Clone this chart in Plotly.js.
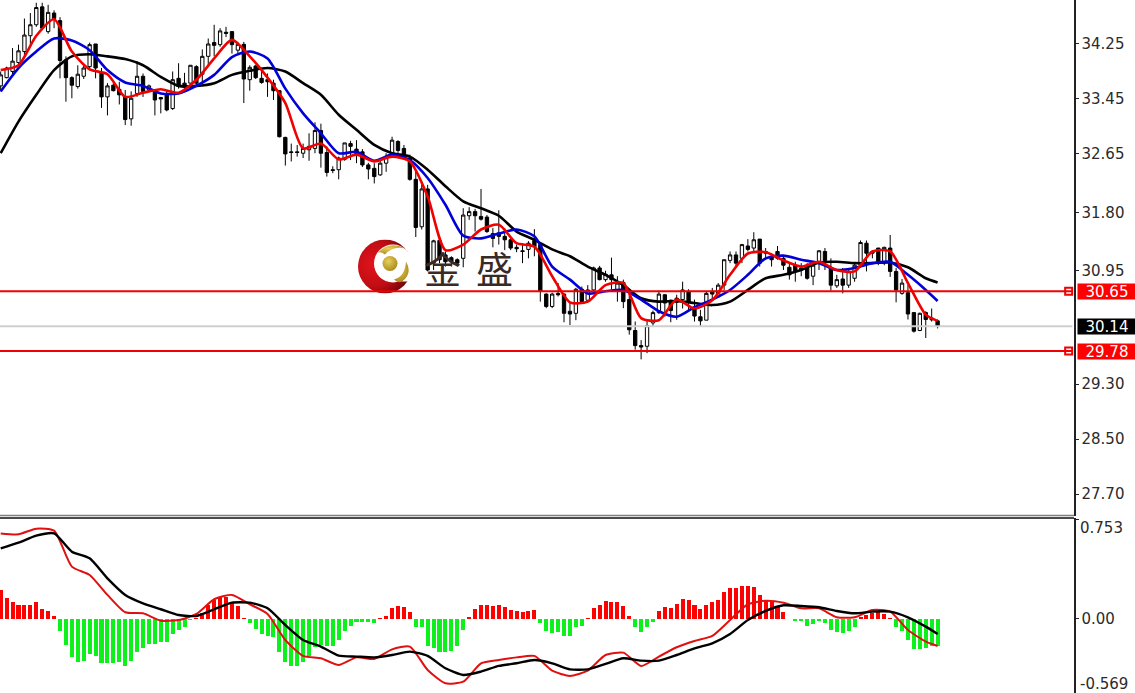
<!DOCTYPE html>
<html><head><meta charset="utf-8">
<script src="https://cdn.plot.ly/plotly-3.0.1.min.js"></script>
<style>html,body{margin:0;padding:0;background:#fff;overflow:hidden}</style>
</head><body><div id="chart" style="width:1135px;height:693px"></div>
<script>
const highs=[33.85,33.92,34.19,34.24,34.62,34.70,34.85,34.85,34.82,34.74,34.64,34.07,33.78,33.94,33.94,34.27,34.25,33.90,33.68,33.68,33.70,33.58,33.56,34.00,33.82,33.66,33.58,33.48,33.58,33.85,33.97,33.83,33.94,33.94,34.17,34.33,34.53,34.48,34.50,34.43,34.28,34.28,33.94,33.94,33.87,33.82,33.73,33.58,32.90,32.80,32.78,32.80,32.95,33.11,33.09,32.76,
32.47,32.61,32.81,32.84,32.85,32.72,32.52,32.515,32.56,32.66,32.90,32.85,32.78,32.64,32.42,32.20,32.20,31.40,31.42,31.23,31.16,31.13,31.86,31.875,31.85,32.14,31.76,31.57,31.83,31.57,31.42,31.33,31.33,31.38,31.555,31.35,30.62,30.63,30.77,30.62,30.48,30.70,30.72,30.74,31.01,31.02,30.95,31.14,30.87,30.82,30.62,30.21,29.94,
30.22,30.37,30.66,30.61,30.53,30.60,30.79,30.68,30.53,30.38,30.65,30.70,30.77,31.11,31.23,31.23,31.34,31.41,31.51,31.41,31.28,31.205,31.31,31.18,31.06,31.08,31.06,31.06,31.06,31.25,31.28,31.13,30.89,30.99,30.99,31.06,31.39,31.39,31.25,31.28,31.30,31.47,30.99,30.83,30.74,30.34,30.34,30.36,30.40,30.24];
const lows=[33.56,33.75,33.80,33.94,34.09,34.21,34.50,34.45,34.40,34.48,33.75,33.41,33.46,33.60,33.74,33.87,33.75,33.32,33.21,33.56,33.37,33.07,33.06,33.48,33.48,33.56,33.21,33.24,33.27,33.29,33.60,33.59,33.59,33.65,33.68,33.92,34.07,34.21,34.35,34.11,34.11,33.39,33.57,33.74,33.67,33.48,33.435,32.89,32.48,32.54,32.61,32.59,32.55,32.66,32.45,32.32,
32.37,32.28,32.55,32.56,32.515,32.46,32.28,32.22,32.33,32.39,32.64,32.66,32.59,32.26,31.44,31.55,30.94,30.96,31.06,31.01,31.01,31.01,31.00,31.69,31.52,31.68,31.50,31.29,31.33,31.25,31.25,31.22,31.06,31.13,31.16,30.50,30.405,30.405,30.575,30.20,30.16,30.23,30.48,30.49,30.62,30.81,30.79,30.68,30.50,30.405,30.02,29.80,29.66,
29.75,30.14,30.32,30.28,30.20,30.235,30.40,30.38,30.21,30.14,30.23,30.53,30.56,30.67,31.06,30.99,31.06,31.23,31.23,31.01,31.11,31.01,31.11,30.96,30.82,30.79,30.87,30.82,30.74,30.96,30.96,30.66,30.70,30.62,30.70,30.79,30.99,30.94,31.13,31.03,31.03,30.86,30.49,30.60,30.24,30.05,30.07,29.97,30.21,30.11];
const opens=[33.64,33.76,33.85,33.98,34.14,34.37,34.53,34.79,34.43,34.70,34.59,34.02,33.76,33.63,33.78,33.92,34.25,33.83,33.48,33.65,33.59,33.48,33.16,33.53,33.78,33.58,33.56,33.47,33.51,33.31,33.75,33.68,33.68,33.92,33.81,34.07,34.27,34.24,34.42,34.43,34.16,34.245,33.73,33.93,33.75,33.73,33.68,33.57,32.89,32.68,32.68,32.66,32.71,32.73,32.99,32.67,
32.42,32.42,32.57,32.80,32.72,32.68,32.49,32.44,32.345,32.515,32.66,32.83,32.73,32.59,32.28,31.59,32.14,31.06,31.39,31.18,31.14,31.11,31.13,31.75,31.81,31.74,31.73,31.49,31.50,31.45,31.40,31.29,31.24,31.26,31.39,31.33,30.61,30.43,30.62,30.61,30.36,30.33,30.68,30.52,30.67,30.99,30.82,30.89,30.66,30.78,30.53,30.08,29.86,
29.85,30.19,30.34,30.60,30.52,30.55,30.53,30.65,30.42,30.28,30.23,30.65,30.57,30.74,31.10,31.18,31.13,31.31,31.28,31.41,31.23,31.16,31.23,31.13,31.00,31.03,30.99,30.99,30.87,31.08,31.23,30.99,30.73,30.83,30.74,30.84,31.03,31.35,31.23,31.28,31.08,31.28,30.94,30.62,30.63,30.34,30.08,30.34,30.26,30.22];
const closes=[33.80,33.90,34.00,34.15,34.38,34.53,34.78,34.48,34.71,34.62,34.01,33.76,33.65,33.81,33.90,34.24,33.90,33.48,33.64,33.57,33.51,33.15,33.46,33.78,33.56,33.64,33.435,33.45,33.29,33.73,33.63,33.62,33.94,33.68,34.07,34.25,34.23,34.44,34.405,34.24,34.245,33.74,33.91,33.76,33.69,33.70,33.57,32.90,32.65,32.67,32.67,32.73,32.76,32.99,32.66,32.38,
32.41,32.59,32.81,32.76,32.65,32.49,32.43,32.32,32.515,32.61,32.85,32.70,32.62,32.28,31.58,32.14,30.96,31.385,31.11,31.08,31.08,31.06,31.76,31.81,31.75,31.70,31.52,31.42,31.45,31.40,31.28,31.27,31.23,31.35,31.30,30.65,30.43,30.61,30.60,30.33,30.32,30.68,30.50,30.67,30.99,30.82,30.90,30.82,30.77,30.50,30.09,29.86,29.84,
30.15,30.34,30.61,30.48,30.37,30.49,30.67,30.50,30.29,30.22,30.62,30.61,30.74,31.11,31.18,31.06,31.33,31.26,31.40,31.06,31.205,31.11,31.13,31.03,30.89,30.94,30.96,30.84,31.03,31.24,31.10,30.74,30.82,30.74,30.94,31.03,31.36,31.205,31.205,31.08,31.29,30.94,30.67,30.77,30.32,30.07,30.33,30.24,30.235,30.14];
const maIndex=[0,3,6,9,12,15,18,21,24,27,30,33,36,39,42,45,48,51,54,57,60,63,66,69,72,75,78,81,84,87,90,93,96,99,102,105,108,111,114,117,120,123,126,129,132,135,138,141,144,147,150,153,156,158];
const maRed=[33.87,33.94,34.37,34.61,34.14,33.88,33.81,33.48,33.54,33.59,33.54,33.73,34.04,34.31,34.07,33.76,33.39,32.73,32.80,32.57,32.64,32.54,32.61,32.54,32.03,31.25,31.33,31.55,31.62,31.35,31.30,30.87,30.49,30.50,30.74,30.77,30.26,30.23,30.53,30.40,30.52,30.89,31.20,31.22,31.10,31.01,31.08,30.96,30.94,31.23,31.23,30.77,30.31,30.22];
const maBlue=[33.56,33.90,34.14,34.33,34.30,34.16,33.87,33.69,33.64,33.53,33.53,33.64,33.80,34.06,34.14,34.04,33.60,33.24,32.95,32.66,32.68,32.55,32.64,32.56,32.30,31.91,31.46,31.42,31.49,31.55,31.45,31.01,30.82,30.62,30.65,30.67,30.53,30.36,30.28,30.42,30.53,30.67,30.89,31.13,31.17,31.11,31.06,30.96,30.99,31.06,31.08,30.89,30.67,30.51];
const maBlack=[32.66,33.12,33.51,33.87,34.07,34.10,34.07,34.03,33.94,33.77,33.64,33.64,33.68,33.80,33.86,33.90,33.85,33.68,33.51,33.22,33.00,32.78,32.66,32.61,32.42,32.18,31.96,31.86,31.75,31.52,31.40,31.26,31.16,31.01,30.89,30.74,30.55,30.50,30.51,30.48,30.45,30.50,30.67,30.84,30.89,30.96,31.07,31.08,31.06,31.06,31.07,31.00,30.84,30.78];
const macdHist=[.22,.157,.127,.11,.11,.11,.127,.076,.06,.023,-.09,-.20,-.286,-.325,-.317,-.27,-.28,-.332,-.332,-.332,-.325,-.355,-.317,-.248,-.218,-.19,-.19,-.177,-.177,-.117,-.084,-.058,-.008,.005,.043,.106,.144,.165,.165,.124,.099,.005,-.033,-.076,-.114,-.127,-.134,-.248,-.325,-.357,-.355,-.325,-.28,-.21,-.198,-.205,-.205,-.16,-.089,-.05,-.02,-.02,-.02,-.033,
.005,.025,.086,.10,.09,.05,-.063,-.063,-.205,-.218,-.248,-.248,-.24,-.205,-.084,.013,.076,.11,.11,.099,.11,.094,.068,.06,.053,.06,.068,-.033,-.089,-.109,-.10,-.127,-.127,-.063,-.05,.008,.086,.11,.137,.13,.13,.10,.023,-.058,-.10,-.063,-.023,.06,.09,.086,.117,.152,.144,.109,.076,.11,.127,.144,.205,.238,.238,.253,.248,.243,
.185,.144,.139,.09,.056,.003,-.013,-.013,-.05,-.04,-.013,-.033,-.08,-.10,-.109,-.09,-.058,.013,.028,.048,.053,.04,.005,-.063,-.089,-.16,-.228,-.228,-.223,-.205,-.205];
const macdRed=[.651,.644,.687,.672,.398,.335,.183,.051,.043,-.013,-.008,.038,.15,.183,.112,.038,-.16,-.281,-.299,-.35,-.292,-.304,-.231,-.21,-.388,-.489,-.477,-.337,-.312,-.292,-.281,-.393,-.433,-.393,-.274,-.256,-.357,-.286,-.215,-.167,-.129,-.008,.112,.139,.124,.081,.081,.013,.013,.068,.056,-.084,-.172,-.205];
const macdBlack=[.537,.58,.634,.651,.512,.461,.309,.183,.119,.074,.03,.023,.074,.124,.124,.081,-.046,-.16,-.21,-.279,-.286,-.292,-.274,-.248,-.281,-.375,-.426,-.40,-.357,-.337,-.312,-.337,-.383,-.383,-.342,-.299,-.317,-.317,-.274,-.223,-.185,-.114,-.008,.061,.104,.099,.089,.061,.043,.056,.056,.013,-.058,-.114];
const priceTicks=[34.25,33.45,32.65,31.80,30.95,29.30,28.50,27.70];
const priceTickText=['34.25','33.45','32.65','31.80','30.95','29.30','28.50','27.70'];
const macdTicks=[0.753,0,-0.569];
const levelUpper=30.65, levelLower=29.78, lastPrice=30.14;
const barIndex=highs.map((_,i)=>i);

const FONT='"DejaVu Sans", sans-serif', TXT='#2b2b2b';
const logo='<svg xmlns="http://www.w3.org/2000/svg" width="162" height="162" viewBox="0 0 54 54"><defs>'+
'<radialGradient id="r" cx="30%" cy="45%" r="70%"><stop offset="0" stop-color="#e2141c"/><stop offset=".6" stop-color="#c00d14"/><stop offset="1" stop-color="#6e0508"/></radialGradient>'+
'<radialGradient id="g" cx="40%" cy="35%" r="70%"><stop offset="0" stop-color="#e8d05a"/><stop offset="1" stop-color="#a8861a"/></radialGradient></defs>'+
'<circle cx="27" cy="27" r="27" fill="url(#r)"/><circle cx="35" cy="24" r="19" fill="#fff"/>'+
'<path d="M54 20 L54 42 L44 42 Q52 33 50 20Z" fill="#fff"/>'+
'<path d="M20 13 Q32 1 47 9 Q35 6 27 15 Q23 12 20 13Z" fill="url(#g)"/>'+
'<path d="M36 40 Q47 37 48 22 Q55 34 44 42 Q40 44 36 40Z" fill="url(#g)"/>'+
'<circle cx="32" cy="24" r="7.5" fill="url(#g)"/></svg>';

const ma=(y,c)=>({type:'scatter',mode:'lines',x:maIndex,y:y,xaxis:'x',yaxis:'y',line:{color:c,width:2.6,shape:'spline',smoothing:0.7},hoverinfo:'skip'});
const traces=[
 {type:'candlestick',x:barIndex,open:opens,high:highs,low:lows,close:closes,xaxis:'x',yaxis:'y',whiskerwidth:0,
  increasing:{line:{color:'#000',width:1},fillcolor:'#fff'},decreasing:{line:{color:'#000',width:1},fillcolor:'#000'},hoverinfo:'skip'},
 ma(maBlack,'#000'),ma(maBlue,'#0000d8'),ma(maRed,'#f00000'),
 {type:'scatter',mode:'markers',x:[180.1,180.1],y:[levelUpper,levelLower],xaxis:'x',yaxis:'y',cliponaxis:false,
  marker:{symbol:'square-open',size:7,color:'#f00000',line:{color:'#f00000',width:2}},hoverinfo:'skip'},
 {type:'bar',x:barIndex,y:macdHist,xaxis:'x2',yaxis:'y2',width:0.68,marker:{color:macdHist.map(v=>v>=0?'#ff0000':'#0cf01c'),line:{width:0}},hoverinfo:'skip'},
 {type:'scatter',mode:'lines',x:maIndex,y:macdRed,xaxis:'x2',yaxis:'y2',line:{color:'#e01010',width:2,shape:'spline',smoothing:0.6},hoverinfo:'skip'},
 {type:'scatter',mode:'lines',x:maIndex,y:macdBlack,xaxis:'x2',yaxis:'y2',line:{color:'#000',width:2.4,shape:'spline',smoothing:0.6},hoverinfo:'skip'}
];
const H=693,W=1074;
const px=v=>v/W, py=v=>1-v/H;
const tagAnn=(y,t,bg)=>({xref:'paper',yref:'y',x:1,xshift:3,y:y,xanchor:'left',yanchor:'middle',text:t,showarrow:false,
  bgcolor:bg,width:58,height:15,borderpad:0,font:{family:FONT,size:15,color:'#fff'}});
const sideAnn=(v,t)=>({xref:'paper',yref:'y2',x:1,xshift:4,y:v,xanchor:'left',yanchor:'middle',text:t,showarrow:false,font:{family:FONT,size:15,color:TXT}});
const logoAnn=(x,t)=>({xref:'paper',yref:'paper',x:px(x),y:py(268),xanchor:'center',yanchor:'middle',text:t,showarrow:false,
  font:{family:'"Noto Sans CJK SC", sans-serif',size:37,color:'#3a2a26'}});
const hl=(y,c)=>({type:'line',xref:'paper',yref:'y',x0:0,x1:0.9985,y0:y,y1:y,line:{color:c,width:2},layer:'above'});
const layout={
 width:1135,height:693,autosize:false,margin:{l:0,r:61,t:0,b:0,pad:0},paper_bgcolor:'#fff',plot_bgcolor:'#fff',showlegend:false,hovermode:false,
 boxgap:0.2,bargap:0,
 xaxis:{domain:[0,1],range:[-0.118,181.0],type:'linear',showgrid:false,zeroline:false,showticklabels:false,ticks:'',rangeslider:{visible:false},anchor:'y'},
 xaxis2:{domain:[0,1],range:[-0.118,181.0],type:'linear',showgrid:false,zeroline:false,showticklabels:false,ticks:'',anchor:'y2'},
 yaxis:{domain:[py(516),1],range:[27.38,34.89],side:'right',anchor:'x',showgrid:false,zeroline:false,showline:true,linecolor:'#222',linewidth:1.5,
   ticks:'outside',ticklen:3,tickcolor:'#222',tickvals:priceTicks,ticktext:priceTickText,tickfont:{family:FONT,size:15,color:TXT}},
 yaxis2:{domain:[0,py(518)],range:[-0.563,0.768],side:'right',anchor:'x2',showgrid:false,zeroline:false,showline:true,linecolor:'#222',linewidth:1.5,
   ticks:'outside',ticklen:3,tickcolor:'#222',tickvals:macdTicks,ticktext:['','0.00',''],tickfont:{family:FONT,size:15,color:TXT}},
 shapes:[hl(lastPrice,'#cfcfcf'),hl(levelUpper,'#f00000'),hl(levelLower,'#f00000'),
  {type:'line',xref:'paper',yref:'paper',x0:0,x1:1,y0:py(515.5),y1:py(515.5),line:{color:'#808080',width:1.5}},
  {type:'line',xref:'paper',yref:'paper',x0:0,x1:1,y0:py(518),y1:py(518),line:{color:'#111',width:1.5}}],
 images:[{source:'data:image/svg+xml;charset=utf-8,'+encodeURIComponent(logo),xref:'paper',yref:'paper',x:px(358),y:py(239.5),sizex:54/W,sizey:54/H,
   xanchor:'left',yanchor:'top',sizing:'stretch',layer:'above'}],
 annotations:[logoAnn(442,'金'),logoAnn(494,'盛'),
  tagAnn(levelUpper,'30.65','#ff0000'),tagAnn(levelLower,'29.78','#ff0000'),tagAnn(lastPrice,'30.14','#000'),
  sideAnn(0.692,'0.753'),sideAnn(-0.494,'-0.569')]
};
Plotly.newPlot('chart',traces,layout,{displayModeBar:false,staticPlot:true});
</script></body></html>
